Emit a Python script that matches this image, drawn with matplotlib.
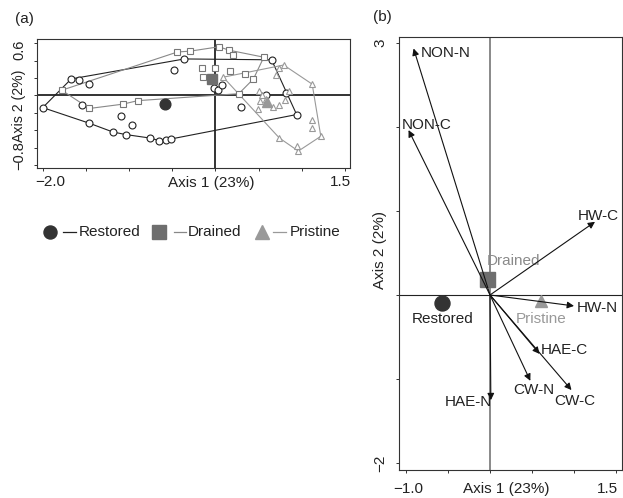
import matplotlib
matplotlib.use("Agg")
import matplotlib.pyplot as plt
import numpy as np

plt.rcParams['font.family'] = ['Liberation Sans', 'DejaVu Sans']

# ---------------- data: panel (a) site scores ----------------
restored_x = [-2.00, -1.67, -1.58, -1.46, -1.54, -1.46, -1.19, -1.04, -1.09, -0.97, -0.76, -0.65,
              -0.57, -0.51, -0.48, -0.36, -0.02, 0.03, 0.08, 0.29, 0.58, 0.65, 0.82, 0.94]
restored_y = [-0.14, 0.19, 0.18, 0.13, -0.11, -0.32, -0.42, -0.45, -0.24, -0.34, -0.49, -0.52,
              -0.51, -0.50, 0.29, 0.42, 0.08, 0.06, 0.12, -0.13, 0.00, 0.41, 0.03, -0.22]
restored_hull = [0, 1, 15, 21, 23, 13, 12, 11, 10, 7, 6, 5, 0]

drained_x = [-1.78, -1.46, -1.07, -0.90, -0.44, -0.29, 0.04, 0.16, 0.20, 0.56, -0.16, 0.00,
             -0.14, 0.17, 0.34, 0.44, 0.27]
drained_y = [0.06, -0.15, -0.10, -0.06, 0.50, 0.51, 0.56, 0.52, 0.46, 0.44, 0.31, 0.31,
             0.21, 0.28, 0.25, 0.19, 0.02]
drained_hull = [0, 4, 5, 6, 7, 9, 15, 16, 3, 2, 1, 0]

pristine_x = [0.09, 0.79, 0.74, 0.70, 1.12, 1.22, 1.12, 1.12, 0.96, 0.95, 0.74, 0.49, 0.51,
              0.54, 0.52, 0.58, 0.67, 0.74, 0.80, 0.85]
pristine_y = [0.21, 0.35, 0.31, 0.24, 0.13, -0.47, -0.28, -0.37, -0.64, -0.58, -0.49, -0.16,
              0.05, 0.00, -0.06, -0.04, -0.13, -0.11, -0.05, 0.05]
pristine_hull = [0, 1, 4, 5, 8, 10, 0]

groups = ['Restored', 'Drained', 'Pristine']
centroid_a_x = [-0.59, -0.04, 0.60]
centroid_a_y = [-0.10, 0.19, -0.08]

# ---------------- data: panel (b) biplot ----------------
var_names = ['NON-N', 'NON-C', 'HW-C', 'HW-N', 'HAE-C', 'CW-N', 'CW-C', 'HAE-N']
var_x = [-0.91, -0.97, 1.25, 1.00, 0.59, 0.48, 0.97, 0.01]
var_y = [2.93, 1.96, 0.87, -0.13, -0.70, -1.02, -1.13, -1.25]
var_lab_x = [-0.83, -1.05, 1.04, 1.03, 0.61, 0.28, 0.76, -0.54]
var_lab_y = [2.88, 2.02, 0.94, -0.16, -0.65, -1.13, -1.26, -1.27]

centroid_b_x = [-0.575, -0.03, 0.61]
centroid_b_y = [-0.10, 0.19, -0.07]
centroid_lab_x = [-0.56, 0.28, 0.61]
centroid_lab_y = [-0.29, 0.40, -0.28]

# ---------------- styles ----------------
marker_open = ['o', 's', '^']
edge_col = ['#222222', '#777777', '#999999']
fill_col = ['#333333', '#6e6e6e', '#999999']
hull_col = ['#222222', '#888888', '#999999']
txt_col = '#222222'

W, H = 623, 498
fig = plt.figure(figsize=(W / 100, H / 100), dpi=100)

def ftext(x, y, s, **kw):
    kw.setdefault('color', txt_col)
    kw.setdefault('fontsize', 11)
    fig.text(x / W, 1 - y / H, s, **kw)

def style_axes(ax):
    for sp in ax.spines.values():
        sp.set_color('#333333')
        sp.set_linewidth(0.8)
    ax.tick_params(direction='out', length=2.5, width=0.7, color='#333333',
                   labelbottom=False, labelleft=False)

# ---------------- panel (a) ----------------
ax = fig.add_axes([36.7 / W, 1 - 168 / H, 313.3 / W, 128.7 / H])
style_axes(ax)
ax.set_xlim(-2.07, 1.558)
ax.set_ylim(-0.835, 0.646)
ax.set_xticks(np.arange(-2.0, 1.51, 0.5))
ax.set_yticks(np.arange(-0.8, 0.61, 0.2))
ax.axhline(0, color='#333333', lw=1.4, zorder=1)
ax.axvline(0, color='#333333', lw=1.4, zorder=1)

sets = [(restored_x, restored_y, restored_hull),
        (drained_x, drained_y, drained_hull),
        (pristine_x, pristine_y, pristine_hull)]
msz = [5.0, 4.6, 4.6]
for i, (xs, ys, hull) in enumerate(sets):
    xs = np.asarray(xs); ys = np.asarray(ys)
    ax.plot(xs[hull], ys[hull], color=hull_col[i], lw=0.8, zorder=2)
    ax.plot(xs, ys, linestyle='none', marker=marker_open[i], ms=msz[i],
            mfc='white', mec=edge_col[i], mew=0.8, zorder=3)
    ax.plot(centroid_a_x[i], centroid_a_y[i], linestyle='none', marker=marker_open[i],
            ms=7.7, mfc=fill_col[i], mec=fill_col[i], zorder=4)

ftext(50, 182.5, '\u22122.0', ha='center', va='center')
ftext(340.5, 182.5, '1.5', ha='center', va='center')
ftext(211, 183.5, 'Axis 1 (23%)', ha='center', va='center')
ftext(19.5, 49.5, '0.6', ha='center', va='center', rotation=90, fontsize=10.5)
ftext(19.5, 155.5, '\u22120.8', ha='center', va='center', rotation=90, fontsize=10.5)
ftext(19.5, 105.5, 'Axis 2 (2%)', ha='center', va='center', rotation=90, fontsize=10.2)
ftext(24, 18.5, '(a)', ha='center', va='center')

# legend row
lax = fig.add_axes([0, 0, 1, 1], facecolor='none')
lax.set_xlim(0, W); lax.set_ylim(H, 0); lax.axis('off')
leg_marker_x = [50, 159.4, 261.5]
leg_line_x = [(63, 76), (174, 186), (272.7, 286)]
leg_text_x = [79, 188, 290]
leg_y = 232.3
for i in range(3):
    lax.plot(leg_marker_x[i], leg_y, marker=marker_open[i], ms=9.4,
             mfc=fill_col[i], mec=fill_col[i], linestyle='none')
    lax.plot(leg_line_x[i], [leg_y, leg_y], color=hull_col[i], lw=0.9)
    lax.text(leg_text_x[i], leg_y, groups[i], ha='left', va='center',
             fontsize=11, color=txt_col)

# ---------------- panel (b) ----------------
bx = fig.add_axes([399.3 / W, 1 - 470 / H, 223 / W, 433.3 / H])
style_axes(bx)
bx.set_xlim(-1.08, 1.575)
bx.set_ylim(-2.08, 3.07)
bx.set_xticks(np.arange(-1.0, 1.51, 0.5))
bx.set_yticks(np.arange(-2, 3.1, 1))
bx.axhline(0, color='#222222', lw=0.8, zorder=1)
bx.axvline(0, color='#808080', lw=1.3, zorder=1)

for i in range(3):
    bx.plot(centroid_b_x[i], centroid_b_y[i], linestyle='none', marker=marker_open[i],
            ms=[10.8, 10.8, 8.5][i], mfc=fill_col[i], mec=fill_col[i], zorder=2)
    bx.text(centroid_lab_x[i], centroid_lab_y[i], groups[i], ha='center', va='center',
            fontsize=11, color=[txt_col, '#8a8a8a', '#999999'][i], zorder=2)

for name, vx, vy, lx, ly in zip(var_names, var_x, var_y, var_lab_x, var_lab_y):
    bx.annotate('', xy=(vx, vy), xytext=(0, 0),
                arrowprops=dict(arrowstyle='-|>', color='#111111', lw=0.8,
                                mutation_scale=10, shrinkA=0, shrinkB=0), zorder=3)
    bx.text(lx, ly, name, ha='left', va='center', fontsize=11, color=txt_col, zorder=4)

ftext(408, 489, '\u22121.0', ha='center', va='center')
ftext(607, 489, '1.5', ha='center', va='center')
ftext(506, 489, 'Axis 1 (23%)', ha='center', va='center')
ftext(380, 42.7, '3', ha='center', va='center', rotation=90)
ftext(380, 463, '\u22122', ha='center', va='center', rotation=90)
ftext(380, 250, 'Axis 2 (2%)', ha='center', va='center', rotation=90)
ftext(382, 17.5, '(b)', ha='center', va='center')

fig.savefig('out.png', dpi=100)
